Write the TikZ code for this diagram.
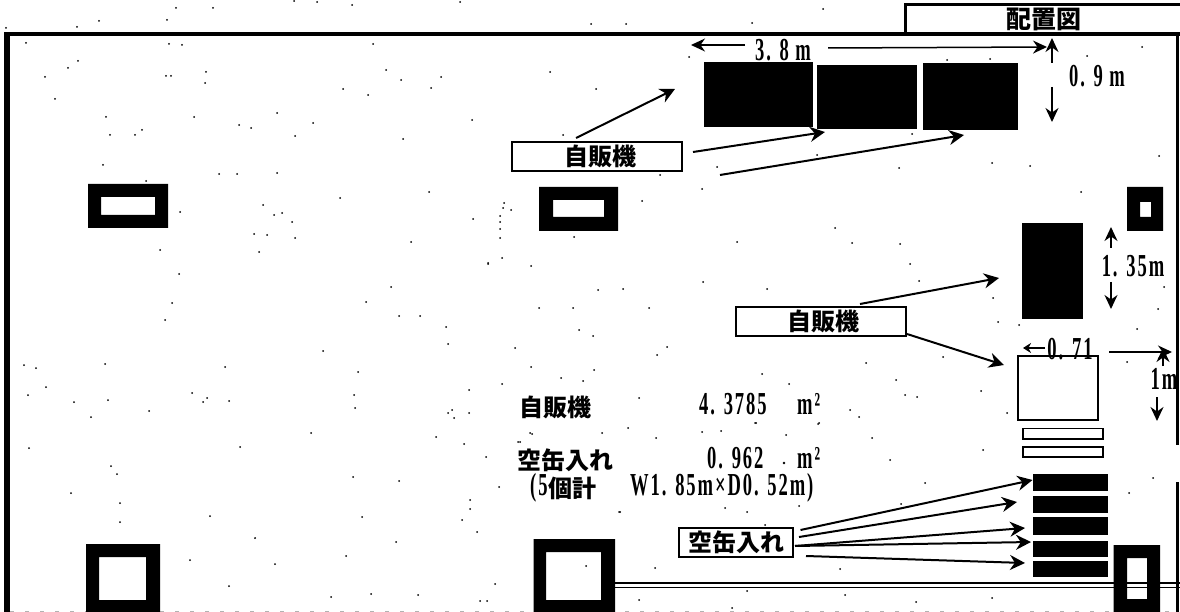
\documentclass[tikz,border=0pt]{standalone}
\usepackage{fontspec}
\usetikzlibrary{arrows.meta}
\newfontfamily\cjkfont{Noto Sans CJK JP}
\newfontfamily\numfont{Liberation Serif}[BoldFont={Liberation Serif Bold},FakeStretch=0.58,LetterSpace=6]
\tikzset{
  cjktext/.style={inner sep=0pt,font=\cjkfont\fontsize{24}{26}\selectfont\bfseries},
  numtext/.style={inner sep=0pt,font=\numfont\fontsize{32}{32}\selectfont\bfseries},
  labelbox/.style={draw=black,line width=2.2pt,fill=white,inner sep=0pt,font=\cjkfont\fontsize{24}{26}\selectfont\bfseries},
  leader/.style={draw=black,line width=2pt,-{Stealth[length=15pt,width=15pt]}},
  dimarrow/.style={draw=black,line width=1.5pt,-{Stealth[length=14pt,width=13pt]}},
  solidblock/.style={fill=black},
  openblock/.style={draw=black,line width=2pt,fill=white},
  pillar/.style={fill=black,even odd rule},
  wall/.style={draw=black,line cap=butt},
  speck/.style={fill=black},
}
\begin{document}
\begin{tikzpicture}[x=1pt,y=-1pt]
\useasboundingbox (0,0) rectangle (1180,612);
% scan specks
\foreach \p/\q in {176/8,213/8,294/1,99/21,77/27,6/28,167/20,26/43,169/44,182/45,78/61,68/68,45/77,166/76,171/76,206/72,205/83,55/99,106/117,194/117,277/113,239/125,251/128,110/135,135/135,142/130,295/136,103/165,146/181,237/174,219/174,277/173,180/212,263/205,282/213,274/215,292/222,254/234,267/235,295/238,120/503,120/522,210/516,255/538,362/517,470/509,462/520,477/532,396/542,346/556,275/564,190/560,229/586,331/597,371/594,418/595,495/584,480/601,487/601,586/566,620/512,752/23,626/24,591/24,823/9,550/72,596/89,563/135,912/134,947/60,990/59,992/163,899/168,1030/166,717/167,817/155,702/189,1142/47,1087/56,1081/192,660/175,1159/156,737/242,852/243,900/244,835/228,703/282,767/289,919/281,910/264,993/298,998/322,1019/325,1137/329,1164/287,1158/309,1127/362,943/357,866/363,896/380,905/395,917/397,981/391,859/417,850/410,762/374,789/384,1007/413,755/423,818/424,639/398,530/433,602/433,628/428,656/438,702/432,721/431,756/423,786/435,819/423,872/438,520/442,890/460,983/450,925/483,1129/493,1153/478,725/508,747/512,799/506,619/512,765/525,901/504,840/569,655/568,639/600,747/591,845/595,916/602,992/598,732/608,160/250,259/252,411/242,488/264,179/274,172/303,165/320,366/302,391/287,420/316,399/316,446/327,448/344,323/351,24/365,36/368,105/364,225/367,358/372,46/387,28/395,74/402,108/400,91/417,149/411,192/393,207/398,203/402,229/401,354/395,355/408,469/390,452/410,448/413,454/418,469/413,311/433,436/437,464/444,29/448,240/447,486/457,111/466,117/474,353/477,399/481,71/493,499/487,317/2,352/5,460/2,373/44,386/70,401/80,441/77,343/89,368/95,431/88,313/123,472/120,403/139,340/198,429/192,473/219,642/201,574/237,689/57,504/203,503/208,511/210,500/216,500/222,500/229,500/238,488/263,502/258,531/266,623/289,598/290,539/308,573/308,649/308,579/330,593/336,515/348,657/355,667/347,531/367,561/378,594/370,583/381,502/384,532/434,518/442,470/500}
  \fill[speck] (\p,\q) circle (1pt);
% frame
\fill (4,32) rectangle (10,612);
\fill (4,32) rectangle (1180,36.5);
\fill (1176,36) rectangle (1178.5,445);
\fill (1176,482) rectangle (1178.5,612);
\draw[gray!60,line width=1pt,dash pattern=on 4pt off 11pt] (10,611.5) -- (1180,611.5);
% title tab
\draw[wall,line width=3pt] (905,33) -- (905,5) -- (1180,5);
\node[cjktext,font=\cjkfont\fontsize{25}{27}\selectfont\bfseries] (title) at (1044,19) {配置図};
% corridor lines
\draw[wall,line width=2pt] (615,583) -- (1180,583);
\draw[wall,line width=1pt] (615,587.5) -- (1180,587.5);
% pillars
\fill[pillar] (88,184) rectangle (168,228) (101,197) rectangle (155,215);
\fill[pillar] (539,187) rectangle (618,231) (553,200) rectangle (604,217);
\fill[pillar] (1127,187) rectangle (1163,231) (1140,202) rectangle (1151,217);
\fill[pillar] (86,544) rectangle (160,612) (99,557) rectangle (146,600);
\fill[pillar] (533.5,539) rectangle (615,612) (546,552) rectangle (601,600);
\fill[pillar] (1113.5,545) rectangle (1160,612) (1127,558) rectangle (1147,599);
% machines
\fill[solidblock] (704,62) rectangle (813,127);
\fill[solidblock] (816.5,65) rectangle (917,129);
\fill[solidblock] (923,63) rectangle (1018,130);
\fill[solidblock] (1022,223) rectangle (1083,319);
\draw[openblock] (1017.5,356) rectangle (1097.5,420);
\draw[openblock,line width=1.6pt] (1023,428.5) rectangle (1103,439);
\draw[openblock,line width=1.6pt] (1023,447) rectangle (1103,457);
\fill[solidblock] (1033,474) rectangle (1108,491);
\fill[solidblock] (1033,496) rectangle (1108,513);
\fill[solidblock] (1033,517) rectangle (1108,535);
\fill[solidblock] (1033,541) rectangle (1108,557);
\fill[solidblock] (1033,561) rectangle (1108,577);
% label boxes
\node[labelbox,minimum width=170pt,minimum height=29pt] (vm1) at (597,156.5) {\hspace*{6pt}自販機};
\node[labelbox,minimum width=170pt,minimum height=29pt] (vm2) at (821,321.5) {\hspace*{4pt}自販機};
\node[labelbox,minimum width=114pt,minimum height=29pt] (can) at (736,542.5) {空缶入れ};
% leader coordinates
\coordinate (a1s) at (576,138); \coordinate (a1e) at (675,89);
\coordinate (a2s) at (693,152); \coordinate (a2e) at (825,132);
\coordinate (a3s) at (720,175); \coordinate (a3e) at (964,135);
\coordinate (b1s) at (860,304); \coordinate (b1e) at (999,278);
\coordinate (b2s) at (907,334); \coordinate (b2e) at (1004,365);
\coordinate (c1s) at (800.5,530); \coordinate (c1e) at (1032.5,480);
\coordinate (c2s) at (799,537); \coordinate (c2e) at (1017,502);
\coordinate (c3s) at (795,546); \coordinate (c3e) at (1025,528);
\coordinate (c4s) at (795,546); \coordinate (c4e) at (1031,542);
\coordinate (c5s) at (806,556); \coordinate (c5e) at (1025,563);
\foreach \n in {a1,a2,a3,b1,b2,c1,c2,c3,c4,c5}
  \draw[leader] (\n s) -- (\n e);
% dimensions
\node[numtext] (d38) at (783,50) {3. 8 m};
\coordinate (d38l) at (745,45); \coordinate (d38le) at (691,45);
\coordinate (d38r) at (828,48); \coordinate (d38re) at (1047,47);
\draw[dimarrow] (d38l) -- (d38le);
\draw[dimarrow] (d38r) -- (d38re);
\node[numtext] (d09) at (1097,76) {0. 9 m};
\coordinate (d09u) at (1052,63); \coordinate (d09ue) at (1052,38);
\coordinate (d09d) at (1052,87); \coordinate (d09de) at (1052,122);
\draw[dimarrow] (d09u) -- (d09ue);
\draw[dimarrow] (d09d) -- (d09de);
\node[numtext] (d135) at (1133,266) {1. 35m};
\coordinate (d135u) at (1111,248); \coordinate (d135ue) at (1111,227);
\coordinate (d135d) at (1111,282); \coordinate (d135de) at (1111,309);
\draw[dimarrow] (d135u) -- (d135ue);
\draw[dimarrow] (d135d) -- (d135de);
\node[numtext] (d071) at (1070,349) {0. 71};
\coordinate (d071l) at (1045,348); \coordinate (d071le) at (1023,348);
\coordinate (d071r) at (1109,352); \coordinate (d071re) at (1172,352);
\draw[dimarrow,line width=1.2pt,-{Stealth[length=8pt,width=10pt]}] (d071l) -- (d071le);
\draw[dimarrow] (d071r) -- (d071re);
\coordinate (d1u) at (1163,366); \coordinate (d1ue) at (1163,348);
\draw[dimarrow] (d1u) -- (d1ue);
\node[numtext] (d1) at (1164,379) {1m};
\coordinate (d1d) at (1157,397); \coordinate (d1de) at (1157,421);
\draw[dimarrow] (d1d) -- (d1de);
% summary
\node[cjktext,anchor=west] (s1) at (519,407) {自販機};
\node[numtext,anchor=west] (s1v) at (699,404) {4. 3785};
\node[numtext,anchor=west] (s1u) at (797,404) {m²};
\node[cjktext,anchor=west] (s2) at (517,460) {空缶入れ};
\node[numtext,anchor=west] (s2v) at (707,458) {0. 962};
\node[numtext,anchor=west] (s2u) at (797,458) {m²};
\fill[speck] (784,463) circle (1.3pt);
\node[numtext,anchor=west] (s3a) at (530,488) {(5};
\node[cjktext,anchor=west] (s3) at (548,488) {個計};
\node[numtext,anchor=west] (s3v) at (630,488) {W1. 85m×D0. 52m)};
\end{tikzpicture}
\end{document}
